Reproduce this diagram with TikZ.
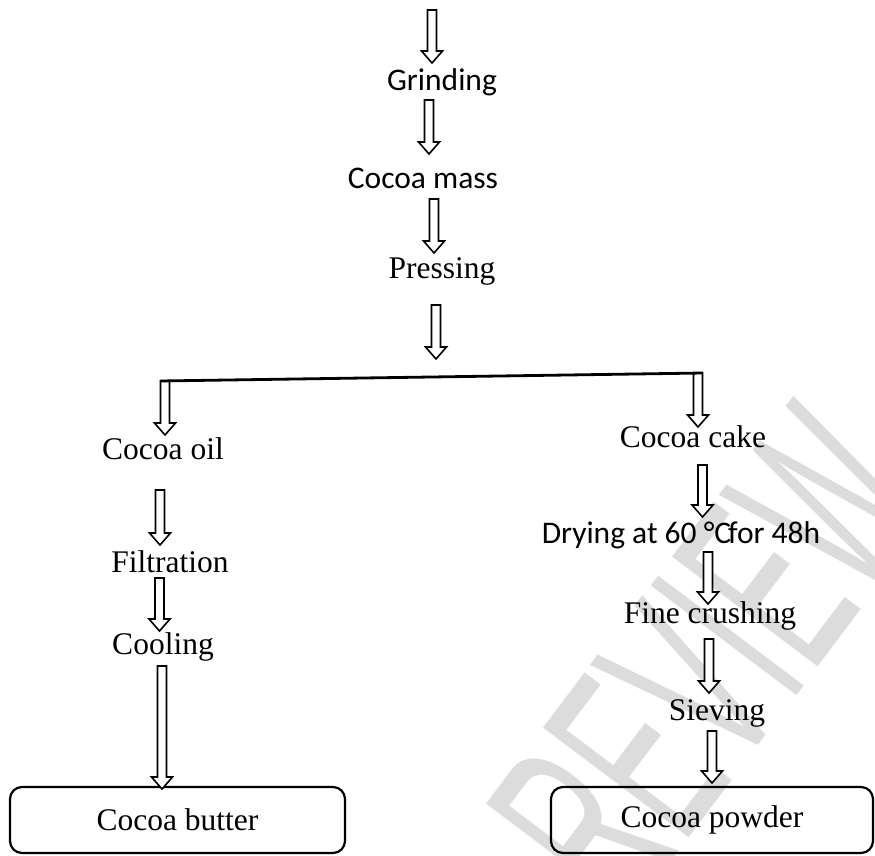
\documentclass[tikz,border=0pt]{standalone}
\usepackage{fontspec}
\setmainfont{Liberation Serif}
\newfontfamily\calibri{Carlito}
\newfontfamily\wmfont{Liberation Sans}[FakeStretch=0.5]
\usetikzlibrary{calc}
\definecolor{wmgray}{RGB}{220,220,220}
\newcommand\flowarrow[2]{%
  \draw[blockarrow] let \p1=(#1), \p2=(#2) in
    (\x1-4.5pt,\y1) -- (\x1+4.5pt,\y1) -- (\x1+4.5pt,\y2+12pt) -- (\x1+10.5pt,\y2+12pt)
    -- (\x1,\y2) -- (\x1-10.5pt,\y2+12pt) -- (\x1-4.5pt,\y2+12pt) -- cycle;}
\begin{document}
\begin{tikzpicture}[x=1pt,y=-1pt,
  every node/.style={inner sep=0pt, outer sep=0pt},
  serif/.style={font=\fontsize{31.5}{36}\selectfont, anchor=base},
  sans/.style={font=\calibri\fontsize{31.5}{36}\selectfont, anchor=base},
  blockarrow/.style={draw=black, fill=white, line width=1.6pt, line join=miter},
  flowbox/.style={draw=black, line width=2.2pt, rounded corners=12pt,
    font=\fontsize{31.5}{36}\selectfont, minimum height=66pt}]
\useasboundingbox (0,0) rectangle (875,856);
% watermark
\begin{scope}
\clip (0,0) rectangle (875,856);
\node[font=\wmfont\fontsize{265}{265}\selectfont, text=wmgray, rotate=53] (wm) at (590,818) {PEER REVIEW};
\end{scope}
% arrow end points
\coordinate (a1s) at (432,10);   \coordinate (a1e) at (432,63);
\coordinate (a2s) at (429,100);  \coordinate (a2e) at (429,154);
\coordinate (a3s) at (434,199);  \coordinate (a3e) at (434,253);
\coordinate (a4s) at (436,305);  \coordinate (a4e) at (436,359);
\coordinate (l1s) at (165,381);  \coordinate (l1e) at (165,435);
\coordinate (l2s) at (160,490);  \coordinate (l2e) at (160,545);
\coordinate (l3s) at (159.5,578);\coordinate (l3e) at (159.5,631);
\coordinate (l4s) at (162,666);  \coordinate (l4e) at (162,789);
\coordinate (r1s) at (698,373);  \coordinate (r1e) at (698,427);
\coordinate (r2s) at (702.5,465);\coordinate (r2e) at (702.5,517);
\coordinate (r3s) at (708,552);  \coordinate (r3e) at (708,604);
\coordinate (r4s) at (709,639);  \coordinate (r4e) at (709,693);
\coordinate (r5s) at (712,731);  \coordinate (r5e) at (712,783);
% boxes
\node[flowbox, minimum width=335pt] (butter) at (177.5,820) {Cocoa butter};
\node[flowbox, minimum width=322pt] (powder) at (712,820) {Cocoa powder};
% arrows
\flowarrow{a1s}{a1e}
\flowarrow{a2s}{a2e}
\flowarrow{a3s}{a3e}
\flowarrow{a4s}{a4e}
\flowarrow{l1s}{l1e}
\flowarrow{l2s}{l2e}
\flowarrow{l3s}{l3e}
\flowarrow{l4s}{l4e}
\flowarrow{r1s}{r1e}
\flowarrow{r2s}{r2e}
\flowarrow{r3s}{r3e}
\flowarrow{r4s}{r4e}
\flowarrow{r5s}{r5e}
% branch bar
\draw[line width=2.8pt] ([xshift=-5pt]l1s) -- ([xshift=5pt]r1s);
% texts
\node[sans]  (grind) at (442,91)  {Grinding};
\node[sans]  (mass)  at (423,188) {Cocoa mass};
\node[serif] (press) at (442,278) {Pressing};
\node[serif] (oil)   at (163,459) {Cocoa oil};
\node[serif] (filt)  at (170,572) {Filtration};
\node[serif] (cool)  at (163,654) {Cooling};
\node[serif] (cake)  at (693,447) {Cocoa cake};
\node[sans]  (dry)   at (681,543) {Drying at 60 °C\kern-0.1em for 48h};
\node[serif] (crush) at (710,623) {Fine crushing};
\node[serif] (sieve) at (717,720) {Sieving};
\end{tikzpicture}
\end{document}
